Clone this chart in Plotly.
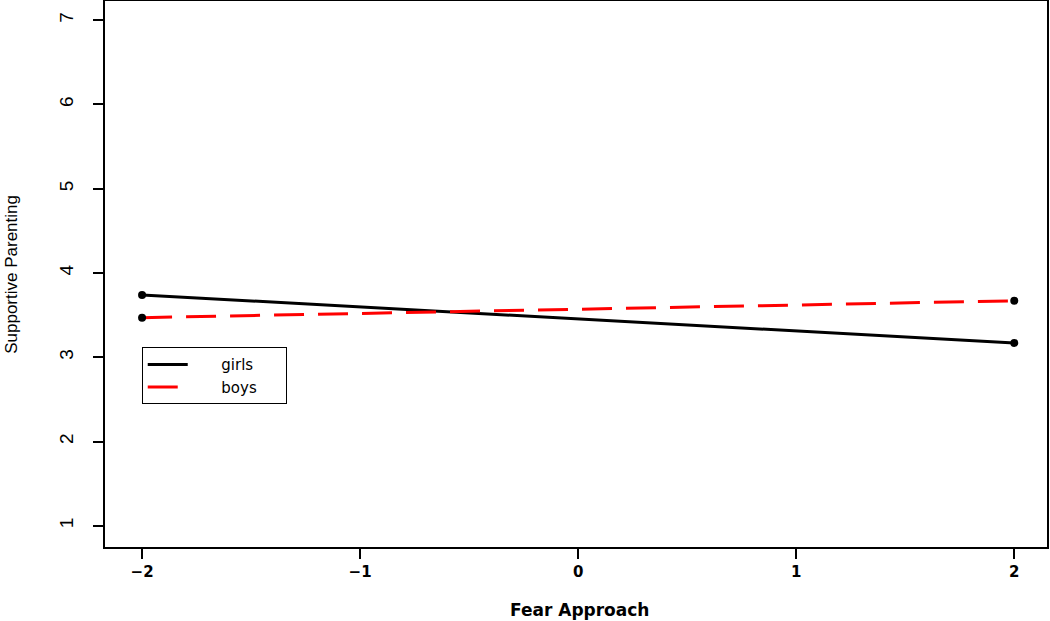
import plotly.graph_objects as go

# simple slopes: supportive parenting by fear approach, for girls and boys
fear_approach = [-2, 2]
girls = [3.74, 3.17]
boys = [3.47, 3.67]

x_ticks = [-2, -1, 0, 1, 2]
x_labels = ['\u22122', '\u22121', '0', '1', '2']
y_ticks = [1, 2, 3, 4, 5, 6, 7]

pad = '\u00a0'

fig = go.Figure()

fig.add_trace(go.Scatter(
    x=fear_approach, y=girls, mode='lines',
    name=pad * 6 + 'girls' + pad * 5,
    line=dict(color='black', width=3)
))
fig.add_trace(go.Scatter(
    x=fear_approach, y=boys, mode='lines',
    name=pad * 6 + 'boys' + pad * 5,
    line=dict(color='#ff0000', width=3, dash='30px,14px')
))
# endpoint dots (black for both groups)
fig.add_trace(go.Scatter(
    x=fear_approach + fear_approach, y=girls + boys, mode='markers',
    marker=dict(color='black', size=8), showlegend=False, hoverinfo='skip'
))

fig.update_xaxes(
    range=[-2.17, 2.15], tickvals=x_ticks, ticktext=['<b>%s</b>' % t for t in x_labels],
    ticks='outside', ticklen=10, tickwidth=2, tickcolor='black',
    showline=True, linecolor='black', linewidth=2, mirror=True,
    showgrid=False, zeroline=False, automargin=False,
    tickfont=dict(family="DejaVu Sans, Liberation Sans", size=15, color="black")
)
fig.update_yaxes(
    range=[0.748, 7.228], tickvals=y_ticks, tickangle=-90,
    ticks='outside', ticklen=10, tickwidth=2, tickcolor='black',
    showline=True, linecolor='black', linewidth=2, mirror=True,
    showgrid=False, zeroline=False, automargin=False, ticklabelstandoff=12,
    tickfont=dict(family="Liberation Sans, Arial", size=19, color="black")
)

# axis titles
fig.add_annotation(
    text='<b>Fear Approach</b>', xref='paper', yref='paper', x=0.504, y=-0.115,
    xanchor='center', yanchor='middle', showarrow=False,
    font=dict(family="DejaVu Sans, Liberation Sans", size=17, color="black")
)
fig.add_annotation(
    text='Supportive Parenting', xref='paper', yref='paper', x=-0.1, y=0.5,
    xanchor='center', yanchor='middle', showarrow=False, textangle=-90,
    font=dict(family="Liberation Sans, Arial", size=17, color="black")
)

fig.update_layout(
    width=1050, height=621,
    margin=dict(l=105, r=3, t=1, b=74),
    plot_bgcolor='white', paper_bgcolor='white',
    legend=dict(
        x=0.039, y=0.366, xanchor='left', yanchor='top',
        bordercolor='black', borderwidth=1, bgcolor='white',
        font=dict(family="DejaVu Sans, Liberation Sans", size=15, color="black"),
        tracegroupgap=0, itemwidth=40
    )
)

# drop the page's default body margin so the figure sits at the window corner
fig.write_html("out.html", config={'displayModeBar': False},
               post_script="document.body.style.margin='0';")
